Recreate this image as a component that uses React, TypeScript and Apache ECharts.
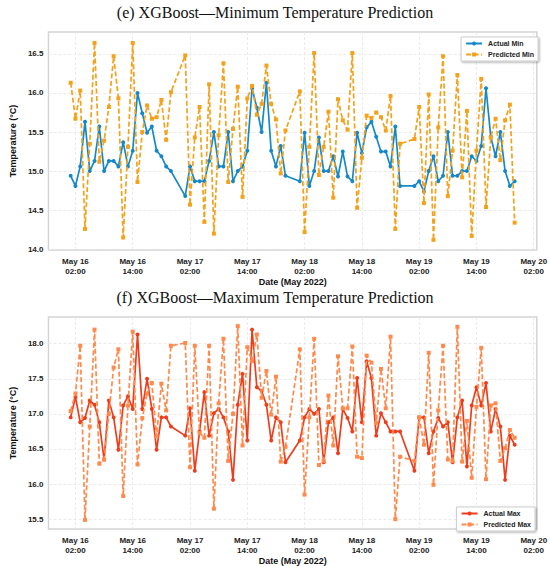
import React, { useEffect, useRef } from "react";
import * as echarts from "echarts";

// hours since 2022-05-16 00:00 for each observation
const hours = [
  1, 2, 3, 4, 5, 6, 7, 8, 9, 10, 11, 12, 13, 14, 15, 16, 17, 18, 19, 20, 21, 22,
  25, 26, 27, 28, 29, 30, 31, 32, 33, 34, 35, 36, 37, 38, 39, 40, 41, 42, 43, 44, 45, 46,
  49, 50, 51, 52, 53, 54, 55, 56, 57, 58, 59, 60, 61, 62, 63, 64, 65, 66, 67, 68, 69, 70,
  73, 74, 75, 76, 77, 78, 79, 80, 81, 82, 83, 84, 85, 86, 87, 88, 89, 90, 91, 92, 93, 94,
];

const tickHours = [2, 14, 26, 38, 50, 62, 74, 86, 98];

const actualMin = [
  14.94, 14.81, 15.06, 15.63, 15.0, 15.13, 15.57, 15.0, 15.13, 15.13, 15.06, 15.37, 15.06, 15.26, 16.0, 15.74, 15.49, 15.57, 15.26, 15.19, 15.06, 15.0,
  14.68, 15.06, 14.87, 14.87, 14.87, 15.13, 15.5, 15.06, 15.06, 15.5, 14.87, 15.0, 15.06, 15.26, 16.06, 15.81, 15.5, 16.13, 15.26, 15.06, 15.32, 14.94,
  14.87, 15.49, 14.81, 15.0, 15.43, 15.0, 15.0, 15.19, 14.93, 15.25, 14.93, 14.87, 15.49, 15.23, 15.56, 15.63, 15.44, 15.25, 15.25, 15.06, 15.57, 14.81,
  14.81, 14.87, 14.74, 15.0, 15.19, 14.87, 14.94, 15.5, 14.94, 14.94, 15.0, 15.0, 15.19, 15.13, 15.32, 16.06, 15.44, 15.19, 15.5, 15.0, 14.81, 14.87,
];

const predictedMin = [
  16.13, 15.67, 16.03, 14.26, 15.35, 16.64, 15.12, 15.39, 15.82, 16.47, 15.93, 14.15, 15.31, 16.64, 14.86, 15.5, 15.84, 15.67, 15.69, 15.91, 15.4, 16.01,
  16.48, 14.57, 15.43, 15.82, 14.35, 16.11, 14.2, 15.46, 16.38, 14.86, 15.54, 16.08, 14.67, 15.93, 16.09, 15.72, 15.86, 16.35, 15.86, 15.66, 14.97, 15.52,
  16.02, 14.22, 15.31, 16.51, 14.95, 15.31, 15.76, 14.66, 15.92, 15.65, 15.53, 16.51, 14.53, 15.17, 15.71, 15.68, 15.75, 15.69, 15.52, 15.96, 14.26, 15.35,
  15.41, 15.82, 14.59, 15.98, 14.12, 15.56, 16.47, 14.68, 15.26, 16.23, 14.92, 15.77, 14.17, 15.26, 16.18, 14.54, 15.43, 15.67, 15.14, 15.65, 15.85, 14.34,
];

const actualMax = [
  16.95, 17.24, 16.88, 16.94, 17.19, 17.13, 16.88, 16.35, 17.19, 16.95, 16.49, 17.12, 17.25, 17.07, 18.13, 17.07, 17.5, 17.07, 16.49, 16.95, 16.95, 16.82,
  16.69, 17.08, 16.19, 16.75, 17.31, 16.69, 17.01, 17.07, 16.95, 16.75, 16.06, 17.13, 17.57, 16.62, 18.2, 17.38, 17.33, 17.13, 16.62, 16.95, 16.88, 16.31,
  16.62, 16.95, 17.07, 17.0, 17.07, 16.31, 16.88, 16.95, 16.44, 17.07, 16.94, 16.75, 17.51, 16.88, 17.75, 17.51, 16.69, 17.01, 16.88, 16.75, 16.75, 16.75,
  16.19, 16.95, 16.95, 16.44, 16.75, 16.94, 16.82, 16.88, 16.31, 16.95, 17.19, 16.25, 17.12, 17.38, 17.12, 17.44, 16.75, 17.07, 16.82, 16.06, 16.69, 16.56,
];

const predictedMax = [
  17.04, 17.29, 17.97, 15.49, 16.82, 18.2, 16.29, 16.35, 17.0, 17.66, 17.92, 15.83, 17.12, 18.17, 16.28, 16.94, 17.29, 17.44, 16.68, 17.43, 17.05, 17.97,
  18.01, 16.24, 17.97, 16.73, 16.66, 17.97, 15.65, 17.15, 18.07, 16.33, 17.0, 18.25, 16.55, 17.95, 17.75, 18.13, 17.23, 17.61, 16.99, 17.53, 16.32, 16.53,
  17.92, 15.85, 16.95, 18.07, 16.27, 16.33, 17.26, 16.55, 17.82, 17.08, 17.08, 17.96, 16.39, 16.37, 17.83, 17.73, 16.87, 17.64, 17.08, 18.1, 15.5, 16.39,
  16.33, 16.95, 16.56, 17.87, 15.99, 17.05, 17.97, 16.35, 16.33, 18.24, 16.32, 16.9, 16.09, 17.1, 17.94, 16.07, 17.12, 17.15, 16.33, 16.51, 16.77, 16.66,
];

const minTicks = [14.0, 14.5, 15.0, 15.5, 16.0, 16.5];
const maxTicks = [15.5, 16.0, 16.5, 17.0, 17.5, 18.0];

const COLORS = {
  actualMin: "#1589c8",
  predictedMin: "#f5a11a",
  actualMax: "#ee3d1c",
  predictedMax: "#ff8a4c",
};

const SANS = "'Liberation Sans', Arial, sans-serif";
const SERIF = "'Liberation Serif', 'DejaVu Serif', serif";

function pair(vals: number[]) {
  return hours.map((h, i) => [h, vals[i]]);
}

function fmtX(v: number) {
  const day = 16 + Math.floor(v / 24);
  const hh = ((v % 24) + 24) % 24;
  return `May ${day}\n${String(hh).padStart(2, "0")}:00`;
}

const xSpan = hours[hours.length - 1] - hours[0];
const xMin = hours[0] - xSpan * 0.05;
const xMax = hours[hours.length - 1] + xSpan * 0.05;

function makeX(gridIndex: number) {
  return {
    type: "value",
    gridIndex,
    min: xMin,
    max: xMax,
    axisLine: { show: false },
    axisTick: { show: false, customValues: tickHours },
    axisLabel: {
      customValues: tickHours,
      formatter: fmtX,
      margin: 6,
      fontFamily: SANS,
      fontWeight: "bold",
      fontSize: 8,
      lineHeight: 10,
      color: "#222",
    },
    splitLine: { show: true, lineStyle: { color: "#e6e6e6", type: [3, 2], width: 0.8 } },
    name: "Date (May 2022)",
    nameLocation: "middle",
    nameGap: 27,
    nameTextStyle: { fontFamily: SANS, fontWeight: "bold", fontSize: 9, color: "#111" },
  };
}

function makeY(gridIndex: number, min: number, max: number, ticks: number[]) {
  return {
    type: "value",
    gridIndex,
    min,
    max,
    axisLine: { show: false },
    axisTick: { show: false, customValues: ticks },
    axisLabel: {
      customValues: ticks,
      formatter: (v: number) => v.toFixed(1),
      margin: 5,
      fontFamily: SANS,
      fontWeight: "bold",
      fontSize: 8,
      color: "#222",
    },
    splitLine: { show: true, lineStyle: { color: "#e6e6e6", type: [3, 2], width: 0.8 } },
    name: "Temperature (°C)",
    nameLocation: "middle",
    nameGap: 22,
    nameTextStyle: { fontFamily: SANS, fontWeight: "bold", fontSize: 9, color: "#111" },
  };
}

function makeLegend(names: string[], pos: any) {
  return {
    data: names,
    orient: "vertical",
    ...pos,
    itemWidth: 16,
    itemHeight: 5,
    itemGap: 4,
    padding: [3, 4, 3, 4],
    backgroundColor: "#fff",
    borderColor: "#cfcfcf",
    borderWidth: 1,
    shadowColor: "rgba(0,0,0,0.35)",
    shadowBlur: 2,
    shadowOffsetX: 1,
    shadowOffsetY: 1,
    textStyle: { fontFamily: SANS, fontWeight: "bold", fontSize: 7, color: "#222", padding: [0, 0, 0, 1] },
  };
}

function lineSeries(name: string, data: number[], color: string, idx: number, dashed: boolean) {
  return {
    type: "line",
    name,
    xAxisIndex: idx,
    yAxisIndex: idx,
    data: pair(data),
    symbol: dashed ? "rect" : "circle",
    symbolSize: 4,
    showSymbol: true,
    lineStyle: { color, width: 1.7, type: dashed ? [5, 2.5] : "solid" },
    itemStyle: { color },
    z: dashed ? 3 : 2,
  };
}

export default function App() {
  const ref = useRef<HTMLDivElement>(null);
  useEffect(() => {
    document.body.style.margin = "0";
    const chart = echarts.init(ref.current!, undefined, { renderer: "svg" });
    const option: any = {
      animation: false,
      backgroundColor: "#fff",
      title: [
        {
          text: "(e) XGBoost\u2014Minimum Temperature Prediction",
          left: "center",
          top: 4,
          padding: 0,
          textStyle: { fontFamily: SERIF, fontWeight: "normal", fontSize: 16, color: "#111" },
        },
        {
          text: "(f) XGBoost\u2014Maximum Temperature Prediction",
          left: "center",
          top: 289,
          padding: 0,
          textStyle: { fontFamily: SERIF, fontWeight: "normal", fontSize: 16, color: "#111" },
        },
      ],
      legend: [
        makeLegend(["Actual Min", "Predicted Min"], { right: 12, top: 37 }),
        makeLegend(["Actual Max", "Predicted Max"], { right: 15, top: 507 }),
      ],
      grid: [
        { left: 35, right: 10, top: 32, height: 218, show: true, borderColor: "#d4d4d4", borderWidth: 1.5 },
        { left: 35, right: 10, top: 317, height: 215, show: true, borderColor: "#d4d4d4", borderWidth: 1.5 },
      ],
      xAxis: [makeX(0), makeX(1)],
      yAxis: [makeY(0, 13.99, 16.78, minTicks), makeY(1, 15.36, 18.38, maxTicks)],
      series: [
        lineSeries("Actual Min", actualMin, COLORS.actualMin, 0, false),
        lineSeries("Predicted Min", predictedMin, COLORS.predictedMin, 0, true),
        lineSeries("Actual Max", actualMax, COLORS.actualMax, 1, false),
        lineSeries("Predicted Max", predictedMax, COLORS.predictedMax, 1, true),
      ],
    };
    chart.setOption(option);
    return () => chart.dispose();
  }, []);
  return <div ref={ref} style={{ width: 550, height: 566 }} />;
}
